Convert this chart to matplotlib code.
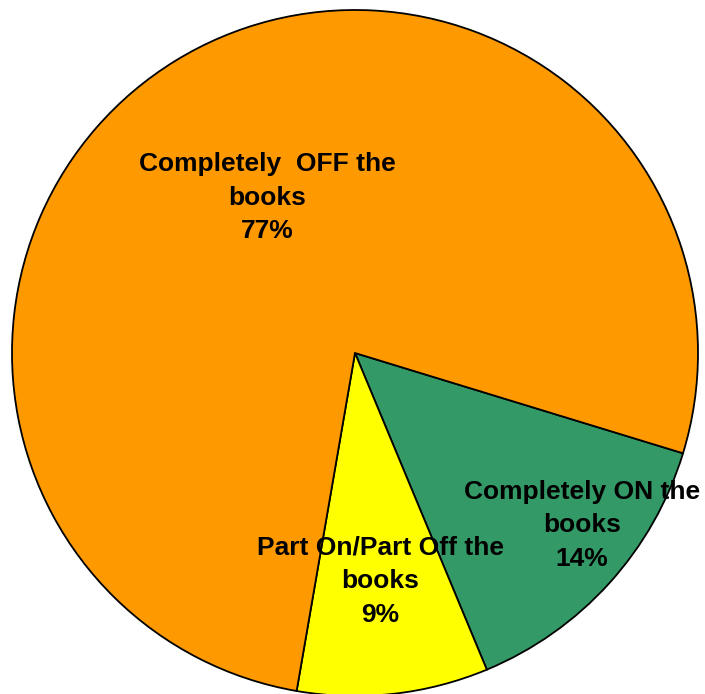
import numpy as np
import matplotlib
matplotlib.use("Agg")
import matplotlib.pyplot as plt

# slice data, in clockwise order starting from the right-hand edge
labels = ["Completely ON the\nbooks", "Part On/Part Off the\nbooks", "Completely  OFF the\nbooks"]
shares = [14, 9, 77]
colors = ["#339966", "#FFFF00", "#FF9900"]

# where each label sits inside its slice (fraction of radius, angle nudge in degrees)
label_radius = [0.83, 0.67, 0.52]
label_nudge = [5, 0, -2]

plt.rcParams["font.family"] = ["Liberation Sans", "DejaVu Sans"]

fig = plt.figure(figsize=(7.05, 6.94), dpi=100)
ax = fig.add_axes([12 / 705, (694 - 353 - 343) / 694, 686 / 705, 686 / 694])

wedges, _ = ax.pie(
    shares,
    colors=colors,
    startangle=-17,
    counterclock=False,
    radius=1,
    wedgeprops=dict(edgecolor="black", linewidth=1.3),
)
ax.set_xlim(-1, 1)
ax.set_ylim(-1, 1)
ax.set_aspect("equal")
ax.axis("off")

for w, lab, val, r, nudge in zip(wedges, labels, shares, label_radius, label_nudge):
    mid = np.deg2rad((w.theta1 + w.theta2) / 2 + nudge)
    ax.text(r * np.cos(mid), r * np.sin(mid), f"{lab}\n{val}%",
            ha="center", va="center", fontsize=19, fontweight="bold",
            linespacing=1.5, clip_on=False)

fig.savefig("out.png", dpi=100)
